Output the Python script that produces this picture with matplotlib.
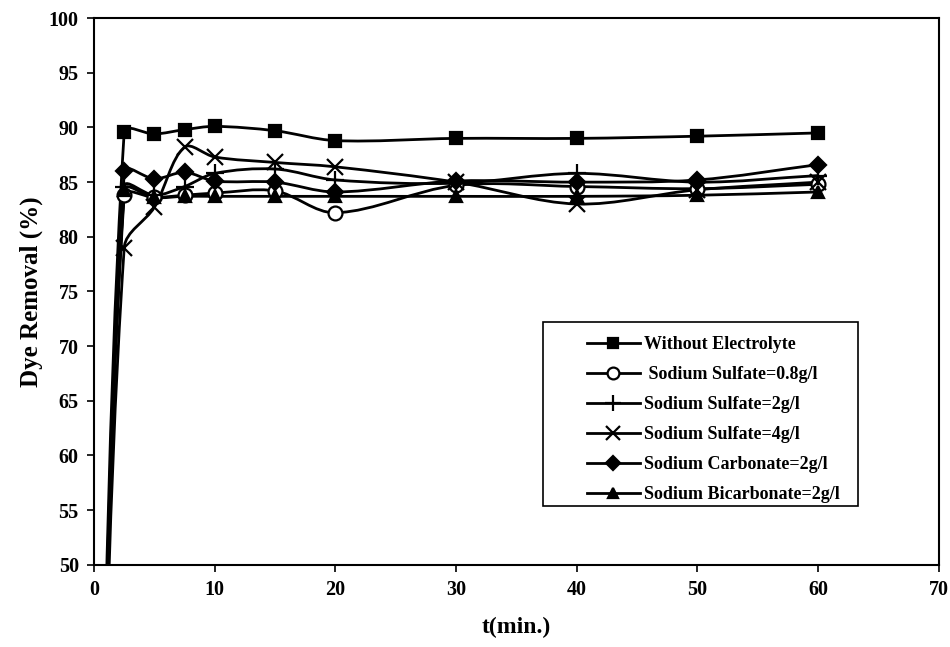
import matplotlib.pyplot as plt
from matplotlib.path import Path
from matplotlib.patches import PathPatch, Rectangle
from matplotlib.lines import Line2D
import numpy as np

plt.rcParams['font.family'] = 'Liberation Serif'
plt.rcParams['font.weight'] = 'bold'

t = [0, 2.5, 5, 7.5, 10, 15, 20, 30, 40, 50, 60]

without_el = [0, 89.6, 89.4, 89.8, 90.1, 89.7, 88.8, 89.0, 89.0, 89.2, 89.5]
sulfate_08 = [0, 83.8, 83.6, 83.8, 84.0, 84.2, 82.2, 84.7, 84.6, 84.4, 84.8]
sulfate_2 = [0, 84.6, 83.8, 84.6, 85.8, 86.2, 85.2, 84.9, 85.8, 85.0, 85.6]
sulfate_4 = [0, 79.0, 82.7, 88.2, 87.3, 86.8, 86.4, 85.0, 83.0, 84.3, 85.0]
carbonate = [0, 86.0, 85.3, 85.9, 85.1, 85.0, 84.1, 85.1, 85.0, 85.2, 86.6]
bicarbonate = [0, 84.3, 83.6, 83.7, 83.7, 83.7, 83.7, 83.7, 83.7, 83.8, 84.1]

labels = ['Without Electrolyte', ' Sodium Sulfate=0.8g/l', 'Sodium Sulfate=2g/l',
          'Sodium Sulfate=4g/l', 'Sodium Carbonate=2g/l', 'Sodium Bicarbonate=2g/l']
series = [without_el, sulfate_08, sulfate_2, sulfate_4, carbonate, bicarbonate]
markers = ['s', 'o', '+', 'x', 'D', '^']
msizes = [9, 10, 13, 12, 8, 9]
mfaces = ['black', 'white', 'black', 'black', 'black', 'black']


def smooth_path(ax, x, y, k=1/3.):
    # Excel-like smoothed line, control points weighted by screen segment length
    tr = ax.transData
    pts = tr.transform(np.column_stack([x, y]))
    n = len(pts)
    verts = [pts[0]]
    codes = [Path.MOVETO]
    for i in range(n - 1):
        p0 = pts[i - 1] if i > 0 else pts[i]
        p1 = pts[i]
        p2 = pts[i + 1]
        p3 = pts[i + 2] if i + 2 < n else pts[i + 1]
        d01 = np.hypot(*(p1 - p0))
        d12 = np.hypot(*(p2 - p1))
        d23 = np.hypot(*(p3 - p2))
        c1 = p1 + (p2 - p0) * k * d12 / max(d01 + d12, 1e-9)
        c2 = p2 - (p3 - p1) * k * d12 / max(d12 + d23, 1e-9)
        verts += [c1, c2, p2]
        codes += [Path.CURVE4] * 3
    verts = tr.inverted().transform(np.array(verts))
    return Path(verts, codes)


fig = plt.figure(figsize=(9.5, 6.47), dpi=100)
ax = fig.add_axes([0.099, 0.127, 0.889, 0.845])
ax.set_xlim(0, 70)
ax.set_ylim(50, 100)

handles = []
for y, m, ms, fc, lab in zip(series, markers, msizes, mfaces, labels):
    ax.add_patch(PathPatch(smooth_path(ax, t, y), facecolor='none', edgecolor='black',
                           lw=2, zorder=2))
    ax.plot(t[1:], y[1:], linestyle='none', marker=m, markersize=ms,
            markerfacecolor=fc, markeredgecolor='black', markeredgewidth=1.6, zorder=3)
    handles.append(Line2D([], [], color='black', lw=2, marker=m, markersize=ms * 0.85,
                          markerfacecolor=fc, markeredgecolor='black',
                          markeredgewidth=1.6, label=lab))

ax.set_xticks(range(0, 71, 10))
ax.set_yticks(range(50, 101, 5))
ax.tick_params(direction='out', length=5, width=1.2, labelsize=14.5, pad=6)
for s in ax.spines.values():
    s.set_linewidth(1.5)

ax.set_xlabel('t(min.)', fontsize=17, fontweight='bold', labelpad=12)
ax.set_ylabel('Dye Removal (%)', fontsize=18, fontweight='bold', labelpad=4)

# legend box drawn like Excel: wide left margin before the keys
ax.add_patch(Rectangle((0.532, 0.108), 0.372, 0.337, transform=ax.transAxes,
                       facecolor='white', edgecolor='black', lw=1.2, zorder=4))
leg = ax.legend(handles=handles, loc='upper left', bbox_to_anchor=(0.584, 0.418),
                fontsize=13, frameon=False, handlelength=2.9, labelspacing=0.72,
                borderpad=0, handletextpad=0.25, borderaxespad=0)
leg.set_zorder(5)

fig.savefig('out.png', dpi=100)
